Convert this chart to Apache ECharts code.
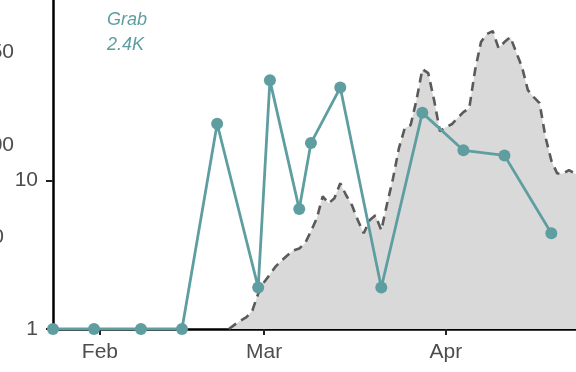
<!DOCTYPE html>
<html>
<head>
<meta charset="utf-8">
<script src="https://cdn.jsdelivr.net/npm/echarts@6/dist/echarts.min.js"></script>
<style>
  html, body { margin: 0; padding: 0; background: #fff; }
  #chart { width: 576px; height: 372px; }
</style>
</head>
<body>
<div id="chart"></div>
<script>
// weekly Grab counts (teal line)
var grabDates = ['2021-01-24', '2021-01-31', '2021-02-08', '2021-02-15', '2021-02-21',
    '2021-02-28', '2021-03-02', '2021-03-07', '2021-03-09', '2021-03-14', '2021-03-21',
    '2021-03-28', '2021-04-04', '2021-04-11', '2021-04-19'];
var grabValues = [1, 1, 1, 1, 24, 1.9, 47, 6.4, 17.8, 42, 1.9, 28.4, 15.9, 14.7, 4.4];

// daily background counts (grey area)
var areaDates = ['2021-02-23', '2021-02-24', '2021-02-25', '2021-02-26', '2021-02-27', '2021-02-28',
    '2021-03-01', '2021-03-02', '2021-03-03', '2021-03-04', '2021-03-05', '2021-03-06', '2021-03-07',
    '2021-03-08', '2021-03-09', '2021-03-10', '2021-03-11', '2021-03-12', '2021-03-13', '2021-03-14',
    '2021-03-15', '2021-03-16', '2021-03-17', '2021-03-18', '2021-03-19', '2021-03-20', '2021-03-21',
    '2021-03-22', '2021-03-23', '2021-03-24', '2021-03-25', '2021-03-26', '2021-03-27', '2021-03-28',
    '2021-03-29', '2021-03-30', '2021-03-31',
    '2021-04-01', '2021-04-02', '2021-04-03', '2021-04-04', '2021-04-05', '2021-04-06', '2021-04-07',
    '2021-04-08', '2021-04-09', '2021-04-10', '2021-04-11', '2021-04-12', '2021-04-13', '2021-04-14',
    '2021-04-15', '2021-04-16', '2021-04-17', '2021-04-18', '2021-04-19', '2021-04-20', '2021-04-21',
    '2021-04-22', '2021-04-23', '2021-04-24'];
var areaValues = [1.0, 1.07, 1.14, 1.2, 1.33, 1.73,
    2.06, 2.33, 2.64, 2.89, 3.13, 3.38, 3.48,
    3.77, 4.54, 5.55, 7.8, 7.0, 7.57, 9.55,
    7.93, 6.79, 5.38, 4.4, 5.38, 5.81, 4.61,
    7.0, 10.3, 16.4, 22.4, 23.5, 34.6, 55.9,
    52.6, 34.6, 21.4,
    22.7, 23.8, 26.2, 28.7, 30.5, 55.1, 85,
    96.2, 100.8, 77.4, 85, 91.8, 72.8, 57.7,
    40.4, 36.2, 33, 19.5, 13.6, 11.1, 11.1,
    11.7, 11.1, 10.8];

var monthTicks = ['2021-02-01', '2021-03-01', '2021-04-01'];
var monthNames = ['Jan', 'Feb', 'Mar', 'Apr', 'May'];
var yTicks = [1, 10];

var font = 'Liberation Sans';
var teal = '#5f9ea0';
var textGrey = '#4d4d4d';

var chart = echarts.init(document.getElementById('chart'));

function ts(d) { return new Date(d.replace(' ', 'T') + (d.length > 10 ? ':00Z' : 'T00:00:00Z')).getTime(); }
function pairs(xs, ys) {
    return xs.map(function (d, i) { return [ts(d), ys[i]]; });
}
var monthTickTs = monthTicks.map(ts);

chart.setOption({
    animation: false,
    grid: { left: 53, right: 0, top: 0, bottom: 43 },
    xAxis: {
        type: 'value',
        min: ts('2021-01-24'),
        max: ts('2021-04-23 05:00'),
        axisLine: { lineStyle: { color: '#000', width: 2.5 } },
        axisTick: { show: true, length: 6, lineStyle: { color: '#222', width: 2 }, customValues: monthTickTs },
        axisLabel: {
            customValues: monthTickTs,
            color: textGrey, fontFamily: font, fontSize: 21, margin: 13,
            formatter: function (v) { return monthNames[new Date(v).getUTCMonth()]; }
        },
        splitLine: { show: false }
    },
    yAxis: {
        type: 'log',
        logBase: 10,
        min: 1,
        max: 163,
        axisLine: { show: true, lineStyle: { color: '#000', width: 2.5 } },
        axisTick: { show: true, length: 7, lineStyle: { color: '#222', width: 2 }, customValues: yTicks },
        axisLabel: {
            customValues: yTicks,
            color: textGrey, fontFamily: font, fontSize: 21, margin: 15
        },
        splitLine: { show: false }
    },
    graphic: [
        { type: 'text', left: 107, top: 11, style: { text: 'Grab', fill: teal, font: 'italic 18px "Liberation Sans"' } },
        { type: 'text', left: 107, top: 36, style: { text: '2.4K', fill: teal, font: 'italic 18px "Liberation Sans"' } },
        { type: 'text', x: 14, y: 52, style: { text: '150', fill: textGrey, font: '21px "Liberation Sans"', align: 'right', verticalAlign: 'middle' } },
        { type: 'text', x: 14, y: 145, style: { text: '100', fill: textGrey, font: '21px "Liberation Sans"', align: 'right', verticalAlign: 'middle' } },
        { type: 'text', x: 4, y: 237, style: { text: '50', fill: textGrey, font: '21px "Liberation Sans"', align: 'right', verticalAlign: 'middle' } }
    ],
    series: [
        {
            type: 'line',
            data: pairs(areaDates, areaValues),
            symbol: 'none',
            lineStyle: { color: '#5a5a5a', width: 2.6, type: [9, 6] },
            areaStyle: { color: '#d9d9d9', opacity: 1, origin: 'start' },
            z: 1
        },
        {
            type: 'line',
            data: pairs(grabDates, grabValues),
            symbol: 'circle',
            symbolSize: 12,
            lineStyle: { color: teal, width: 2.8 },
            itemStyle: { color: teal },
            z: 3
        }
    ]
});
</script>
</body>
</html>
